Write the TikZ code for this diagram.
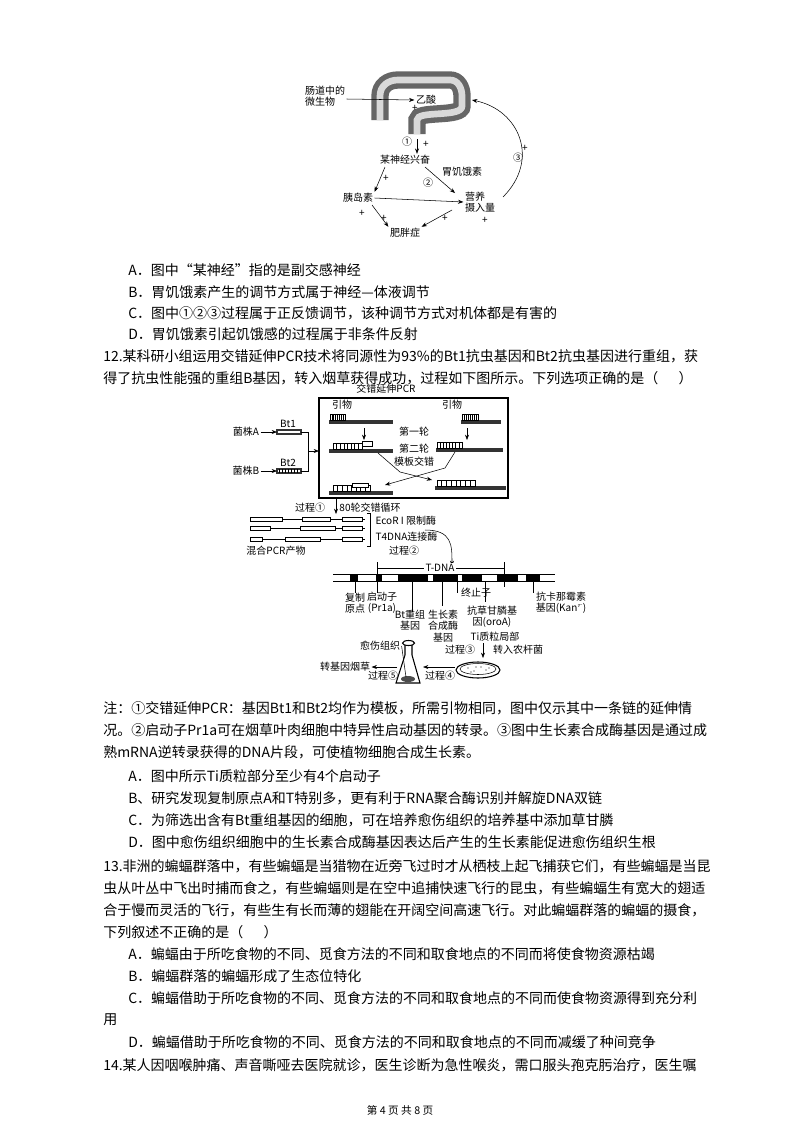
\documentclass[tikz,border=0pt]{standalone}
\usepackage{fontspec}
\setmainfont{Noto Sans CJK SC}
\usetikzlibrary{arrows.meta,calc}
\begin{document}
\begin{tikzpicture}[x=0.75pt,y=-0.75pt,
  txt/.style={anchor=west,inner sep=0pt,font=\fontsize{10.5pt}{12pt}\selectfont},
  sm/.style={inner sep=1pt,font=\fontsize{7.5pt}{8.5pt}\selectfont,align=center},
  arr/.style={-{Stealth[length=4pt]},thick},
  gline/.style={line width=0.8pt,draw=black!80}]
\fill[white] (0,0) rectangle (800,1132);
\useasboundingbox (0,0) rectangle (800,1132);
% ---------- top diagram ----------
\def\gut{(380,120) -- (380,96) .. controls (380,86) and (388,80) .. (398,80) -- (450,80) .. controls (458,80) and (462,88) .. (462,96) -- (462,106) .. controls (462,118) and (417,110) .. (417,120) -- (417,134)}
\draw[line width=13pt,black!60] \gut;
\draw[line width=5pt,black!15] \gut;
\node[sm,align=left] (micro) at (325,96) {肠道中的\\微生物};
\node[sm] (yisuan) at (426,100) {乙酸};
\draw[arr,thin] (micro.east) ++(0,3) -- (yisuan.west);
\node[sm] at (415,108) {+};
\coordinate (g1) at (417,139);
\node[sm] (shen) at (405,160) {某神经兴奋};
\draw[arr,thin] (g1) -- (shen.north -| g1);
\node[sm] at (407,142) {①};\node[sm] at (426,144) {+};
\node[sm] (yi) at (358,198) {胰岛素};
\node[sm,align=left] (ying) at (480,202) {营养\\摄入量};
\node[sm] (fei) at (405,233) {肥胖症};
\node[sm] at (462,172) {胃饥饿素};\node[sm] at (428,183) {②};
\draw[arr,thin] (385,167) -- (yi.north east);
\draw[arr,thin] (425,167) -- (455,193);
\node[sm] at (386,178) {+};
\draw[arr,thin] (yi.east) -- (ying.west);
\draw[arr,thin] (372,205) -- (fei.north west);
\draw[arr,thin] (452,210) -- (fei.north east);
\node[sm] at (362,213) {+};\node[sm] at (384,218) {+};\node[sm] at (445,218) {+};\node[sm] at (485,220) {+};
\draw[arr,thin] (503,197) .. controls (540,160) and (520,110) .. (472,100);
\node[sm] at (518,158) {③};\node[sm] at (525,148) {+};
% ---------- question text ----------
\node[txt] at (128,270) {A．图中“某神经”指的是副交感神经};
\node[txt] at (128,292) {B．胃饥饿素产生的调节方式属于神经—体液调节};
\node[txt] at (128,313) {C．图中①②③过程属于正反馈调节，该种调节方式对机体都是有害的};
\node[txt] at (128,334) {D．胃饥饿素引起饥饿感的过程属于非条件反射};
\node[txt] at (103,356) {12.某科研小组运用交错延伸PCR技术将同源性为93\%的Bt1抗虫基因和Bt2抗虫基因进行重组，获};
\node[txt] at (103,378) {得了抗虫性能强的重组B基因，转入烟草获得成功，过程如下图所示。下列选项正确的是（\quad\ \ ）};
% ---------- PCR diagram ----------
\node[sm] at (386,389) {交错延伸PCR};
\draw[thick] (319,398) rectangle (508,498);
\node[sm] (ja) at (246,432) {菌株A};
\node[sm] (jb) at (246,471) {菌株B};
\draw[gline,fill=white] (277,430) rectangle (301,434);
\draw[gline,fill=white] (277,469) rectangle (301,473);
\foreach \x in {279,282,...,299} \draw[thin] (\x,469) -- (\x,473);
\node[sm] at (288,424) {Bt1};\node[sm] at (288,463) {Bt2};
\draw[arr,thin] (ja.east) -- (277,432);\draw[arr,thin] (jb.east) -- (277,471);
\draw (301,432) -- (308,432) -- (308,471) -- (301,471);
\draw[arr,thin] (308,451) -- (319,451);
\node[sm] at (342,405) {引物};\node[sm] at (452,405) {引物};
% strands
\foreach \xa/\xb/\y in {330/392/421, 462/500/421, 330/392/450, 437/502/449, 330/392/492, 436/505/487}
  \draw[gline] (\xa,\y) rectangle (\xb,\y+2);
\foreach \xa/\xb/\y in {330/345/414, 462/478/414, 333/362/443, 437/462/442, 333/370/485, 437/475/480}
  {\draw[fill=white] (\xa,\y) rectangle (\xb,\y+6);
   \foreach \k in {1,...,7} \draw ($(\xa,\y)!{\k/8}!(\xb,\y)$) -- ++(0,6);}
\draw[fill=white] (362,441) rectangle (372,446);
\draw[fill=white] (352,483) rectangle (368,487);
\draw[arr,thin] (364,428) -- (364,440);\draw[arr,thin] (467,428) -- (467,440);
\node[sm] at (414,432) {第一轮};\node[sm] at (414,449) {第二轮};\node[sm] at (414,462) {模板交错};
\draw[arr,thin] (378,453) -- (400,472) -- (432,480);
\draw[arr,thin] (455,452) -- (445,468) -- (385,485);
\node[sm] at (310,508) {过程①};
\draw[arr,thin] (336,499) -- (336,514);
\node[sm] at (370,508) {80轮交错循环};
% mixed products
\foreach \y in {519, 528, 539}{
  \draw[thin] (250,\y) -- (365,\y);}
\foreach \y/\a/\b/\c/\d in {519/250/282/302/330, 528/250/270/300/335, 539/250/262/285/320}{
  \draw[fill=white] (\a,\y-2) rectangle (\b,\y+2);
  \draw[fill=white] (\c,\y-2) rectangle (\d,\y+2);
  \draw[fill=white] (342,\y-2) rectangle (362,\y+2);}
\node[sm] at (276,551) {混合PCR产物};
\draw (367,513) -- (370,513) -- (370,546) -- (367,546);
\node[sm,anchor=west] at (374,521) {\textit{EcoR} I 限制酶};
\node[sm,anchor=west] at (374,537) {T4DNA连接酶};
\node[sm] at (404,551) {过程②};
\draw[arr,thin] (425,530) .. controls (452,530) and (452,545) .. (452,566);
% T-DNA
\draw[thin] (333,574) -- (555,574);\draw[thin] (333,581) -- (555,581);
\foreach \a/\b in {350/358, 376/382, 398/428, 433/458, 462/482, 497/518, 526/540}
  \fill (\a,574) rectangle (\b,581);
\draw (377,562) -- (377,587);\draw (504,562) -- (504,587);
\node[sm,fill=white] (tdna) at (440,568) {T-DNA};
\draw (377,568) -- (tdna.west);\draw (tdna.east) -- (504,568);
\foreach \x/\yb in {355/593, 377/593, 412/612, 442/606, 457/593, 485/602, 533/593} \draw (\x,581) -- (\x,\yb);
\node[sm] at (355,603) {复制\\原点};
\node[sm] at (382,603) {启动子\\(Pr1a)};
\node[sm] at (410,620) {Bt重组\\基因};
\node[sm] at (443,626) {生长素\\合成酶\\基因};
\node[sm] at (476,593) {终止子};
\node[sm] at (492,617) {抗草甘膦基\\因(oroA)};
\node[sm] at (561,603) {抗卡那霉素\\基因(Kan$^r$)};
% flask, dish
\node[sm] at (495,637) {Ti质粒局部};
\node[sm] at (460,650) {过程③};
\draw[arr,thin] (483,643) -- (483,658);
\node[sm] at (518,650) {转入农杆菌};
\draw[thick] (478,670) ellipse (22 and 8);
\draw (478,669) ellipse (18 and 5.5);
\foreach \x/\y in {468/668,474/671,481/667,486/670,476/667,471/672,489/668} \fill (\x,\y) circle (0.7);
\draw[thick] (405,645) -- (405,655) -- (396,683) -- (420,683) -- (412,655) -- (412,645);
\draw[thick] (408.5,643) ellipse (6 and 2.5);
\fill[black!70] (408,679) ellipse (7 and 3);
\node[sm] (yu) at (380,646) {愈伤组织};
\draw[thin] (yu.east) -- (406,677);
\draw[arr,thin] (455,667) -- (423,667);
\node[sm] at (440,676) {过程④};
\node[sm] (zj) at (345,667) {转基因烟草};
\draw[arr,thin] (397,667) -- (zj.east);
\node[sm] at (383,676) {过程⑤};
% ---------- note ----------
\node[txt] at (103,708) {注：①交错延伸PCR：基因Bt1和Bt2均作为模板，所需引物相同，图中仅示其中一条链的延伸情};
\node[txt] at (103,730) {况。②启动子Pr1a可在烟草叶肉细胞中特异性启动基因的转录。③图中生长素合成酶基因是通过成};
\node[txt] at (103,752) {熟mRNA逆转录获得的DNA片段，可使植物细胞合成生长素。};
\node[txt] at (128,776) {A．图中所示Ti质粒部分至少有4个启动子};
\node[txt] at (128,798) {B、研究发现复制原点A和T特别多，更有利于RNA聚合酶识别并解旋DNA双链};
\node[txt] at (128,820) {C．为筛选出含有Bt重组基因的细胞，可在培养愈伤组织的培养基中添加草甘膦};
\node[txt] at (128,842) {D．图中愈伤组织细胞中的生长素合成酶基因表达后产生的生长素能促进愈伤组织生根};
\node[txt] at (103,866) {13.非洲的蝙蝠群落中，有些蝙蝠是当猎物在近旁飞过时才从栖枝上起飞捕获它们，有些蝙蝠是当昆};
\node[txt] at (103,888) {虫从叶丛中飞出时捕而食之，有些蝙蝠则是在空中追捕快速飞行的昆虫，有些蝙蝠生有宽大的翅适};
\node[txt] at (103,910) {合于慢而灵活的飞行，有些生有长而薄的翅能在开阔空间高速飞行。对此蝙蝠群落的蝙蝠的摄食，};
\node[txt] at (103,932) {下列叙述不正确的是（\quad\ \ ）};
\node[txt] at (128,954) {A．蝙蝠由于所吃食物的不同、觅食方法的不同和取食地点的不同而将使食物资源枯竭};
\node[txt] at (128,976) {B．蝙蝠群落的蝙蝠形成了生态位特化};
\node[txt] at (128,998) {C．蝙蝠借助于所吃食物的不同、觅食方法的不同和取食地点的不同而使食物资源得到充分利};
\node[txt] at (103,1020) {用};
\node[txt] at (128,1042) {D．蝙蝠借助于所吃食物的不同、觅食方法的不同和取食地点的不同而减缓了种间竞争};
\node[txt] at (103,1065) {14.某人因咽喉肿痛、声音嘶哑去医院就诊，医生诊断为急性喉炎，需口服头孢克肟治疗，医生嘱};
\node[inner sep=0pt,font=\fontsize{8pt}{9pt}\selectfont] at (400,1110) {第 4 页 共 8 页};
\end{tikzpicture}
\end{document}
